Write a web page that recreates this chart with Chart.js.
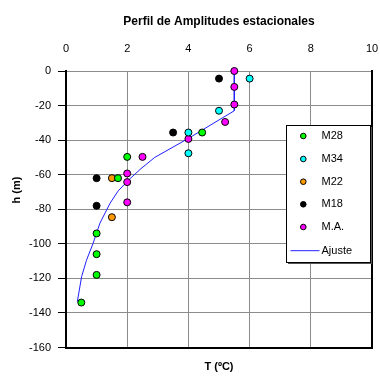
<!DOCTYPE html>
<html>
<head>
<meta charset="utf-8">
<script src="https://cdn.jsdelivr.net/npm/chart.js@4/dist/chart.umd.min.js"></script>
<style>
  body { margin: 0; background: #fff; }
  canvas { display: block; }
</style>
</head>
<body>
<canvas id="perfil" width="380" height="376"></canvas>
<script>
// amplitudes (ºC) and depths (m) for each station
const tempM28 = [4.45, 2.0, 1.7, 1.0, 1.0, 1.0, 0.5];
const depthM28 = [-35.6, -49.7, -62, -94, -106, -118, -134];
const tempM34 = [6.0, 5.0, 4.0, 4.0];
const depthM34 = [-4.4, -23, -35.6, -47.6];
const tempM22 = [1.5, 1.5];
const depthM22 = [-62, -84.6];
const tempM18 = [5.0, 3.5, 1.0, 1.0];
const depthM18 = [-4.4, -35.6, -62, -78];
const tempMA = [5.5, 5.5, 5.5, 5.2, 4.0, 2.5, 2.0, 2.0, 2.0];
const depthMA = [0, -9.2, -19.4, -29.5, -39.3, -49.7, -59.3, -64.3, -76];
// fitted curve
const tempFit = [5.5, 5.5, 4.0, 2.9, 2.45, 2.05, 1.7, 1.44, 1.11, 0.89, 0.67, 0.51, 0.37];
const depthFit = [0, -23, -39, -50, -56.5, -63, -69.5, -76.5, -88, -99.5, -109.5, -119, -133.5];

function pts(t, h) {
  return t.map((v, i) => ({ x: v, y: h[i] }));
}

function serie(label, t, h, color) {
  return {
    label: label,
    data: pts(t, h),
    backgroundColor: color,
    borderColor: '#000',
    borderWidth: 1,
    pointRadius: 3.5,
    pointHoverRadius: 3.5,
    showLine: false,
    clip: false,
    order: 1
  };
}

// keep the plot area fixed, no extra room for the end tick labels
function noPad(s) {
  s.paddingLeft = 0;
  s.paddingRight = 0;
  s.paddingTop = 0;
  s.paddingBottom = 0;
}

const extras = {
  id: 'extras',
  afterDraw(chart) {
    const ctx = chart.ctx;
    ctx.save();
    // y axis title
    ctx.translate(17, 190);
    ctx.rotate(-Math.PI / 2);
    ctx.font = 'bold 11px Arial, "Liberation Sans"';
    ctx.fillStyle = '#000';
    ctx.textAlign = 'center';
    ctx.textBaseline = 'middle';
    ctx.fillText('h (m)', 0, 0);
    ctx.restore();

    // legend box
    const bx = 286, by = 125, bw = 84, bh = 137;
    ctx.save();
    ctx.fillStyle = '#555';
    ctx.fillRect(bx + 2, by + 2, bw, bh);
    ctx.fillStyle = '#fff';
    ctx.fillRect(bx, by, bw, bh);
    ctx.strokeStyle = '#000';
    ctx.lineWidth = 1;
    ctx.strokeRect(bx + 0.5, by + 0.5, bw, bh);
    ctx.font = '11px Arial, "Liberation Sans"';
    ctx.textBaseline = 'middle';
    ctx.textAlign = 'left';
    const rows = [136, 159, 181.7, 204.3, 227, 250.7];
    chart.data.datasets.forEach((ds, i) => {
      const y = rows[i];
      if (ds.showLine) {
        ctx.strokeStyle = ds.borderColor;
        ctx.lineWidth = 1;
        ctx.beginPath();
        ctx.moveTo(290.5, y);
        ctx.lineTo(319.5, y);
        ctx.stroke();
      } else {
        ctx.beginPath();
        ctx.arc(303.3, y, 2.8, 0, Math.PI * 2);
        ctx.fillStyle = ds.backgroundColor;
        ctx.fill();
        ctx.strokeStyle = '#000';
        ctx.lineWidth = 1;
        ctx.stroke();
      }
      ctx.fillStyle = '#000';
      ctx.fillText(ds.label, 321.5, y);
    });
    ctx.restore();
  }
};

new Chart(document.getElementById('perfil').getContext('2d'), {
  type: 'scatter',
  data: {
    datasets: [
      serie('M28', tempM28, depthM28, '#00ff00'),
      serie('M34', tempM34, depthM34, '#00ffff'),
      serie('M22', tempM22, depthM22, '#ff9900'),
      serie('M18', tempM18, depthM18, '#000000'),
      serie('M.A.', tempMA, depthMA, '#ff00ff'),
      {
        label: 'Ajuste',
        data: pts(tempFit, depthFit),
        showLine: true,
        borderColor: '#2020ff',
        borderWidth: 1,
        pointRadius: 0,
        pointHoverRadius: 0,
        fill: false,
        tension: 0,
        order: 5
      }
    ]
  },
  options: {
    responsive: false,
    animation: false,
    layout: { padding: 0 },
    plugins: {
      legend: { display: false },
      tooltip: { enabled: false }
    },
    scales: {
      x: {
        type: 'linear',
        position: 'top',
        min: 0,
        max: 10,
        afterFit: s => { s.height = 71; noPad(s); },
        ticks: {
          stepSize: 2,
          padding: 15,
          color: '#000',
          font: { family: 'Arial, "Liberation Sans"', size: 11 }
        },
        grid: { color: '#8c8c8c', lineWidth: 1, drawTicks: false },
        border: { color: '#8c8c8c', width: 1 },
        title: {
          display: true,
          text: 'Perfil de Amplitudes estacionales',
          color: '#000',
          padding: { top: 14, bottom: 0 },
          font: { family: 'Arial, "Liberation Sans"', size: 12, weight: 'bold' }
        }
      },
      x2: {
        type: 'linear',
        position: 'bottom',
        min: 0,
        max: 10,
        afterFit: s => { s.height = 28.5; noPad(s); },
        ticks: { display: false },
        grid: { display: false },
        border: { color: '#000', width: 2 },
        title: {
          display: true,
          text: 'T (ºC)',
          color: '#000',
          padding: { top: 0, bottom: 2 },
          font: { family: 'Arial, "Liberation Sans"', size: 11, weight: 'bold' }
        }
      },
      y: {
        type: 'linear',
        position: 'left',
        min: -160,
        max: 0,
        afterFit: s => { s.width = 66; noPad(s); },
        ticks: {
          stepSize: 20,
          padding: 7,
          color: '#000',
          font: { family: 'Arial, "Liberation Sans"', size: 11 }
        },
        grid: { color: '#8c8c8c', lineWidth: 1, tickLength: 8, tickColor: '#000' },
        border: { color: '#000', width: 2 }
      },
      y2: {
        type: 'linear',
        position: 'right',
        min: -160,
        max: 0,
        afterFit: s => { s.width = 8; noPad(s); },
        ticks: { display: false },
        grid: { display: false },
        border: { color: '#000', width: 2 }
      }
    }
  },
  plugins: [extras]
});
</script>
</body>
</html>
